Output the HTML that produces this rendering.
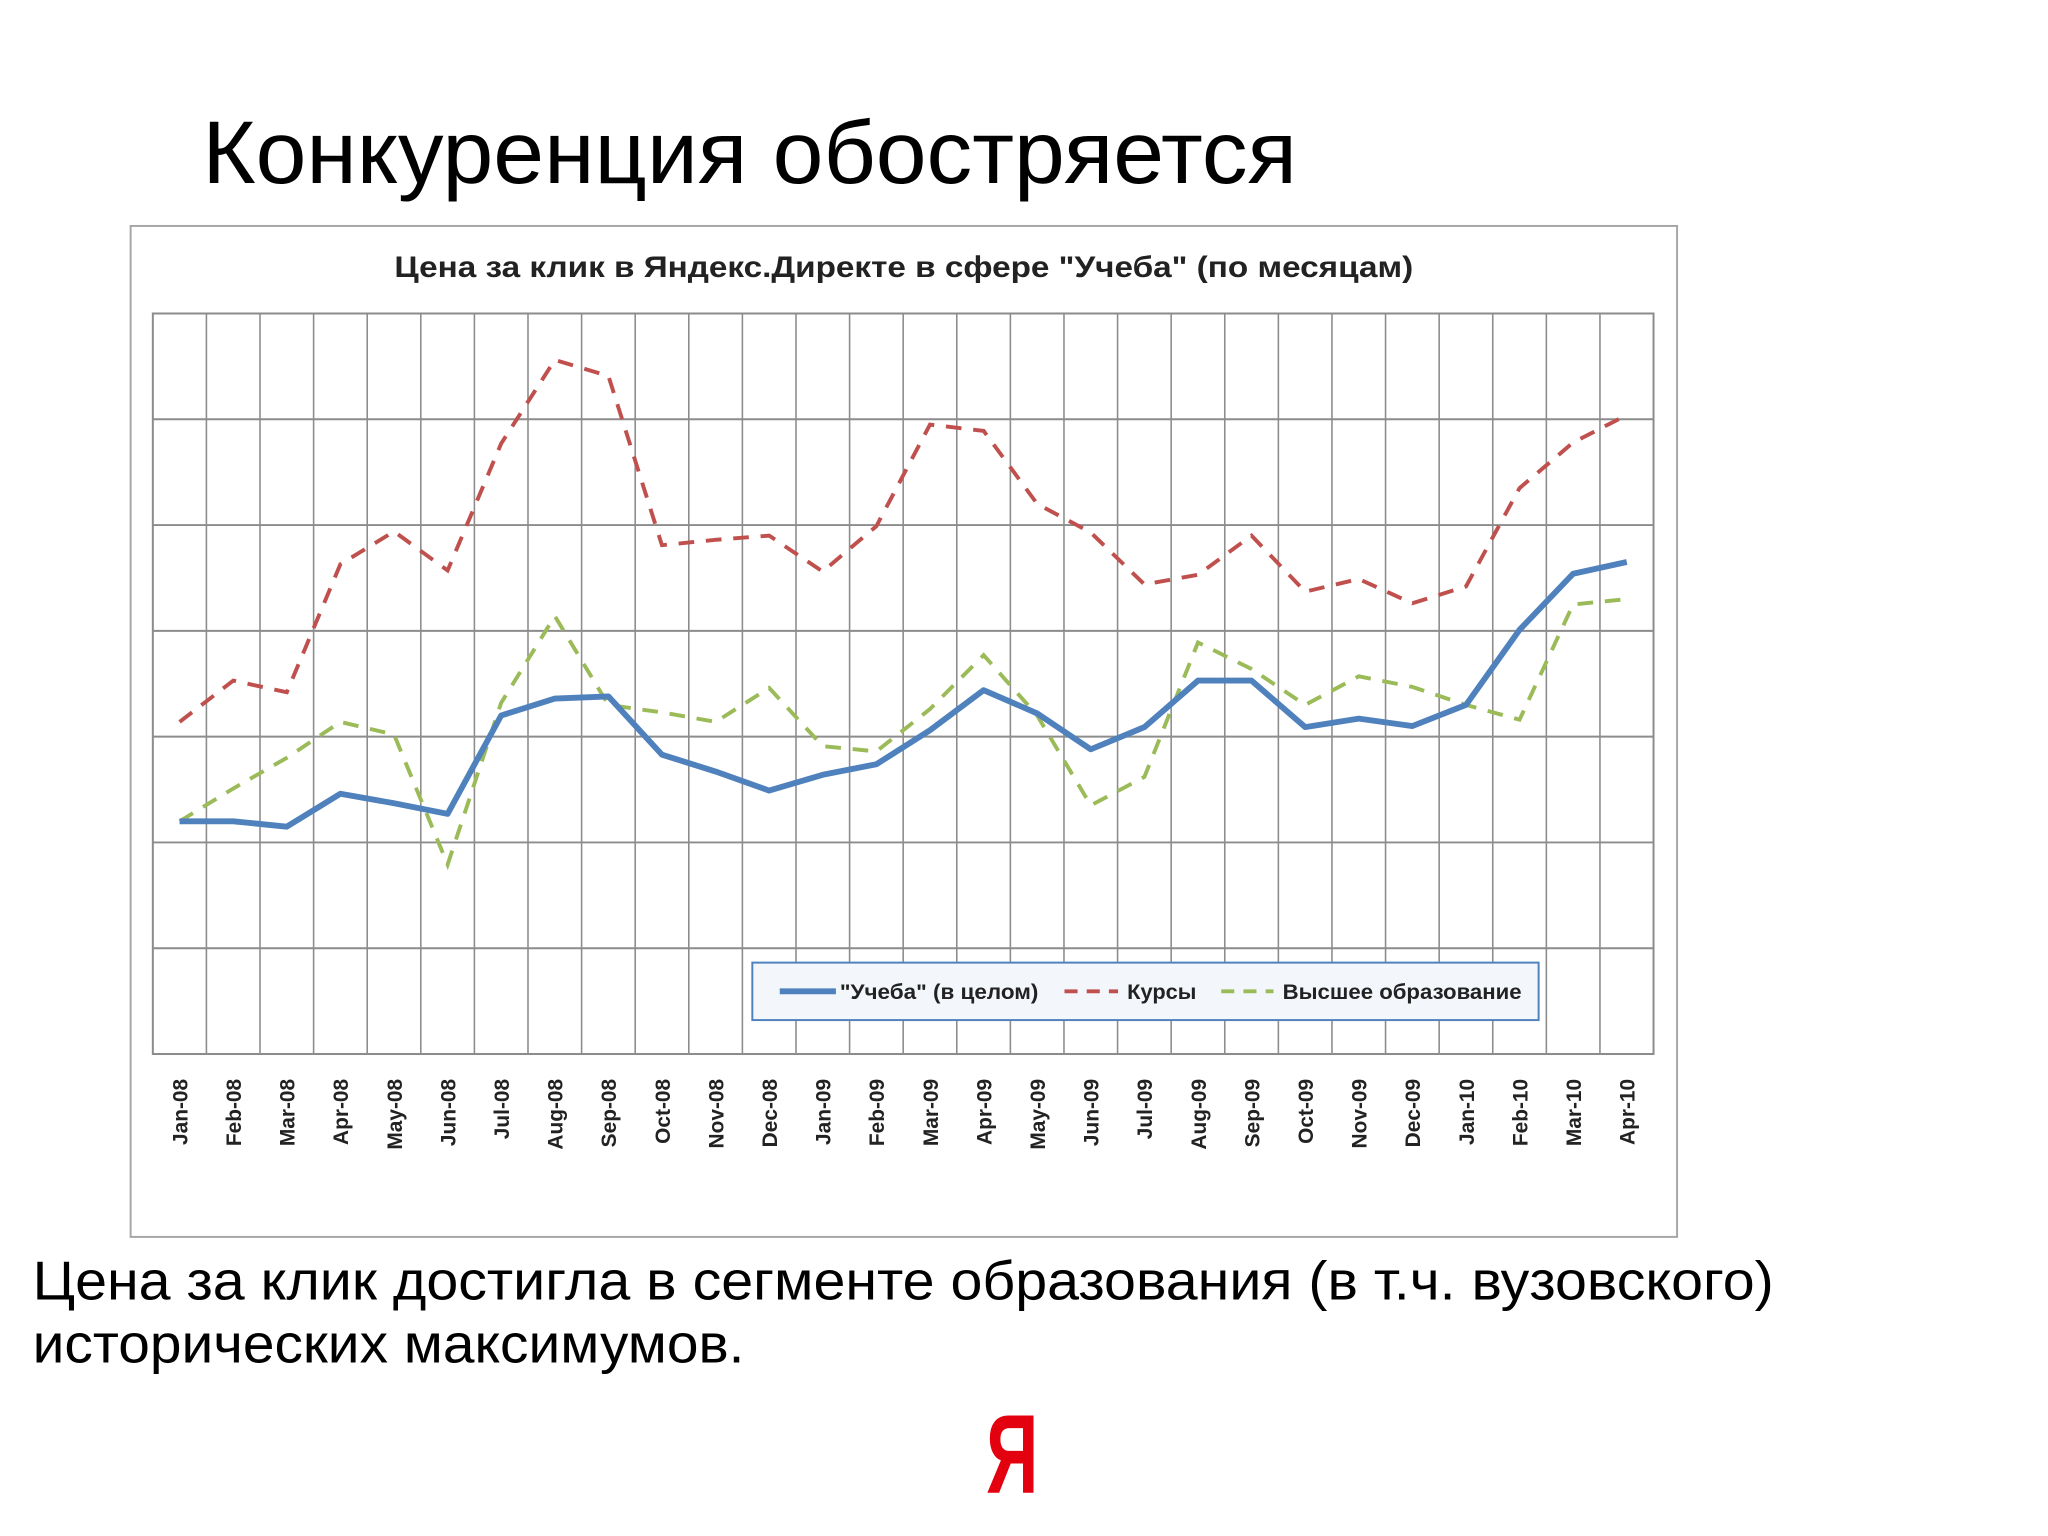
<!DOCTYPE html>
<html><head><meta charset="utf-8">
<style>
html,body{margin:0;padding:0;background:#fff;}
svg{display:block;}
text{font-family:"Liberation Sans","DejaVu Sans",sans-serif;}
</style></head>
<body>
<svg id="s" width="2048" height="1536" viewBox="0 0 1568 1176" xmlns="http://www.w3.org/2000/svg">
<rect width="1568" height="1176" fill="#fff"/>
<text x="155" y="140" font-size="68" fill="#000" textLength="838" lengthAdjust="spacingAndGlyphs">Конкуренция обостряется</text>
<rect x="100" y="173" width="1184" height="774" fill="#fff" stroke="#a6a6a6" stroke-width="1.5"/>
<text x="692" y="212" font-size="23" font-weight="bold" text-anchor="middle" fill="#222" textLength="780" lengthAdjust="spacingAndGlyphs">Цена за клик в Яндекс.Директе в сфере "Учеба" (по месяцам)</text>
<g id="grid"></g>
<g id="series"></g>
<g id="xlabels"></g>
<g>
<rect x="576" y="737" width="602" height="44" fill="#f3f6fa" stroke="#4f81bd" stroke-width="1.5"/>
<line x1="597" y1="759" x2="640" y2="759" stroke="#4f81bd" stroke-width="4.5"/>
<text x="643" y="765" font-size="16" font-weight="bold" fill="#222" textLength="152" lengthAdjust="spacingAndGlyphs">"Учеба" (в целом)</text>
<line x1="815" y1="759" x2="856" y2="759" stroke="#c0504d" stroke-width="3" stroke-dasharray="10 7"/>
<text x="863" y="765" font-size="16" font-weight="bold" fill="#222" textLength="53" lengthAdjust="spacingAndGlyphs">Курсы</text>
<line x1="935" y1="759" x2="975" y2="759" stroke="#9bbb59" stroke-width="3" stroke-dasharray="10 7"/>
<text x="982" y="765" font-size="16" font-weight="bold" fill="#222" textLength="183" lengthAdjust="spacingAndGlyphs">Высшее образование</text>
</g>
<text x="25" y="995" font-size="42" fill="#000" textLength="1333" lengthAdjust="spacingAndGlyphs">Цена за клик достигла в сегменте образования (в т.ч. вузовского)</text>
<text x="25" y="1043" font-size="42" fill="#000" textLength="545" lengthAdjust="spacingAndGlyphs">исторических максимумов.</text>
<text x="775" y="1143" font-size="86" font-weight="bold" fill="#e3000f" text-anchor="middle" textLength="40" lengthAdjust="spacingAndGlyphs">Я</text>
</svg>
<script>
var categories = ["Jan-08","Feb-08","Mar-08","Apr-08","May-08","Jun-08","Jul-08","Aug-08","Sep-08","Oct-08","Nov-08","Dec-08","Jan-09","Feb-09","Mar-09","Apr-09","May-09","Jun-09","Jul-09","Aug-09","Sep-09","Oct-09","Nov-09","Dec-09","Jan-10","Feb-10","Mar-10","Apr-10"];
var uchebaValues = [2.20,2.20,2.15,2.46,2.37,2.27,3.20,3.36,3.38,2.83,2.67,2.49,2.64,2.74,3.06,3.44,3.22,2.88,3.09,3.53,3.53,3.09,3.17,3.10,3.30,4.01,4.54,4.65];
var kursyValues = [3.14,3.53,3.42,4.63,4.94,4.57,5.77,6.56,6.41,4.81,4.86,4.90,4.56,4.99,5.95,5.89,5.20,4.93,4.44,4.53,4.90,4.37,4.49,4.26,4.42,5.35,5.78,6.04];
var vyssheeValues = [2.20,2.51,2.80,3.14,3.02,1.79,3.32,4.14,3.30,3.23,3.14,3.46,2.91,2.86,3.26,3.77,3.20,2.35,2.62,3.89,3.64,3.30,3.57,3.47,3.30,3.16,4.25,4.30];
var yMax = 7;

var NS = "http://www.w3.org/2000/svg";
var PL = 117, PR = 1266, PT = 240, PB = 807;
function xPos(i){ return PL + (PR - PL) / categories.length * (i + 0.5); }
function yPos(v){ return PB - (PB - PT) * v / yMax; }
function mk(tag, parent){ var e = document.createElementNS(NS, tag); parent.appendChild(e); return e; }
function pts(vals){ var a = []; for (var i = 0; i < vals.length; i++) a.push(xPos(i).toFixed(1) + "," + yPos(vals[i]).toFixed(1)); return a.join(" "); }

var grid = document.getElementById("grid");
var sg = document.getElementById("series");
var xl = document.getElementById("xlabels");

try {
  var bg = mk("rect", grid);
  bg.setAttribute("x", PL); bg.setAttribute("y", PT); bg.setAttribute("width", PR - PL); bg.setAttribute("height", PB - PT);
  bg.setAttribute("fill", "#fff"); bg.setAttribute("stroke", "#8c8c8c"); bg.setAttribute("stroke-width", "1.5");
  
  
  var step = (PR - PL) / categories.length;
  for (var i = 0; i <= categories.length; i++) {
    var vx = PL + step * i;
    var vl = mk("line", grid);
    vl.setAttribute("x1", vx); vl.setAttribute("x2", vx); vl.setAttribute("y1", PT); vl.setAttribute("y2", PB);
    vl.setAttribute("stroke", "#8c8c8c"); vl.setAttribute("stroke-width", "1.2");
    
    
  }
  for (var v = 0; v <= yMax; v++) {
    var hy = yPos(v);
    var hl = mk("line", grid);
    hl.setAttribute("x1", PL); hl.setAttribute("x2", PR); hl.setAttribute("y1", hy); hl.setAttribute("y2", hy);
    hl.setAttribute("stroke", "#8c8c8c"); hl.setAttribute("stroke-width", "1.5");
    
    
  }
} catch (e) {}

try {
  var pk = mk("polyline", sg);
  pk.setAttribute("points", pts(kursyValues));
  pk.setAttribute("fill", "none"); pk.setAttribute("stroke", "#c0504d"); pk.setAttribute("stroke-width", "3"); pk.setAttribute("stroke-dasharray", "12 9");
  
  
} catch (e) {}

try {
  var pv = mk("polyline", sg);
  pv.setAttribute("points", pts(vyssheeValues));
  pv.setAttribute("fill", "none"); pv.setAttribute("stroke", "#9bbb59"); pv.setAttribute("stroke-width", "3"); pv.setAttribute("stroke-dasharray", "12 9");
  
  
} catch (e) {}

try {
  var pu = mk("polyline", sg);
  pu.setAttribute("points", pts(uchebaValues));
  pu.setAttribute("fill", "none"); pu.setAttribute("stroke", "#4f81bd"); pu.setAttribute("stroke-width", "4.5"); pu.setAttribute("stroke-linejoin", "round");
  
  
} catch (e) {}

for (var j = 0; j < categories.length; j++) {
  try {
    var tx = xPos(j) + 6, ty = 826;
    var t = mk("text", xl);
    t.setAttribute("x", tx); t.setAttribute("y", ty);
    t.setAttribute("transform", "rotate(-90 " + tx + " " + ty + ")");
    t.setAttribute("text-anchor", "end"); t.setAttribute("font-size", "16"); t.setAttribute("font-weight", "bold"); t.setAttribute("fill", "#222");
    t.textContent = categories[j];
    
    
  } catch (e) {}
}
</script>
</body></html>
